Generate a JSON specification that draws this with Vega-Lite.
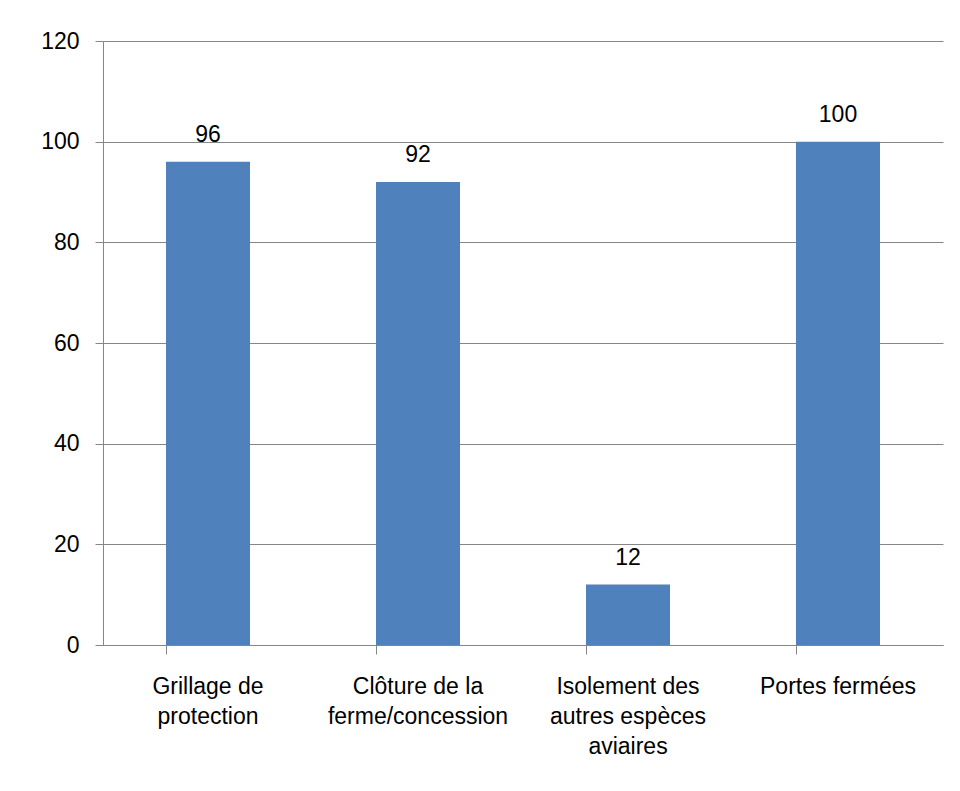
{
  "$schema": "https://vega.github.io/schema/vega-lite/v6.json",
  "autosize": "none",
  "width": 840,
  "height": 604,
  "padding": {"left": 103, "top": 41, "right": 17, "bottom": 146},
  "background": "white",
  "config": {
    "view": {"stroke": null},
    "font": "Liberation Sans"
  },
  "data": {
    "values": [
      {"categorie": "Grillage de|protection", "valeur": 96},
      {"categorie": "Clôture de la|ferme/concession", "valeur": 92},
      {"categorie": "Isolement des|autres espèces|aviaires", "valeur": 12},
      {"categorie": "Portes fermées", "valeur": 100}
    ]
  },
  "encoding": {
    "x": {
      "field": "categorie",
      "type": "nominal",
      "sort": null,
      "scale": {"paddingInner": 0.6, "paddingOuter": 0.3},
      "axis": {
        "title": null,
        "labelAngle": 0,
        "labelExpr": "split(datum.label, '|')",
        "labelFontSize": 23,
        "labelLimit": 0,
        "labelColor": "#000000",
        "labelLineHeight": 30,
        "labelPadding": 21,
        "labelBaseline": "top",
        "tickSize": 9,
        "tickColor": "#868686",
        "domainColor": "#868686",
        "bandPosition": 0,
        "ticks": true,
        "grid": false
      }
    },
    "y": {
      "field": "valeur",
      "type": "quantitative",
      "scale": {"domain": [0, 120], "nice": false},
      "axis": {
        "title": null,
        "values": [0, 20, 40, 60, 80, 100, 120],
        "labelFontSize": 23,
        "labelColor": "#000000",
        "labelPadding": 16,
        "tickSize": 8,
        "tickColor": "#868686",
        "domainColor": "#868686",
        "gridColor": "#868686",
        "grid": true
      }
    }
  },
  "layer": [
    {"mark": {"type": "bar", "color": "#4F81BD"}},
    {
      "mark": {"type": "text", "fontSize": 23, "color": "#000000", "baseline": "alphabetic", "dy": -20},
      "encoding": {"text": {"field": "valeur", "type": "quantitative"}}
    }
  ]
}
